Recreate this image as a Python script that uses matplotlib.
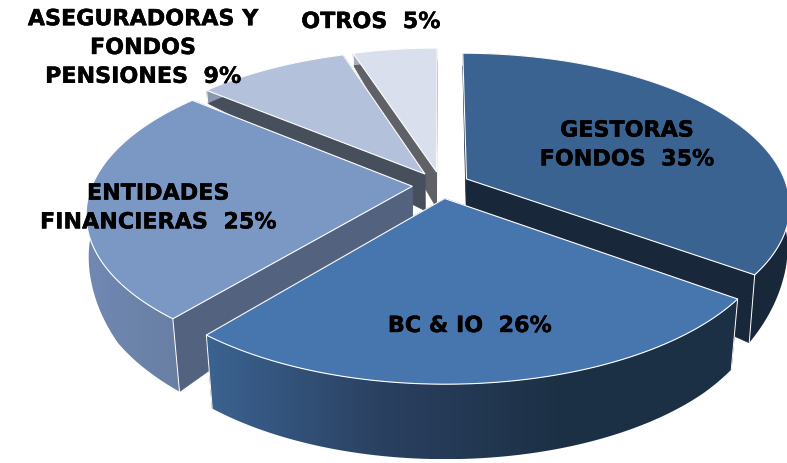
import numpy as np
import matplotlib
matplotlib.use('Agg')
import matplotlib.pyplot as plt
import matplotlib.patheffects as pe
from matplotlib.colors import LinearSegmentedColormap
from matplotlib.patches import Polygon

plt.rcParams['font.family'] = ['DejaVu Sans']

categorias = ['GESTORAS\nFONDOS  35%', 'BC & IO  26%', 'ENTIDADES\nFINANCIERAS  25%',
              'ASEGURADORAS Y\nFONDOS\nPENSIONES  9%', 'OTROS  5%']
valores = [35, 26, 25, 9, 5]

color_top = ['#3A6391', '#4776AE', '#7B98C5', '#B3C1DA', '#D9DFEC']
color_lado = ['#182739', '#1C3045', '#52627F', '#474F5C', '#5F6167']
grad_fuera = [('#182739', '#182739'), ('#3B6391', '#2A4060', '#1C3045', '#1C3045'), ('#7089B4', '#687D9F'),
              ('#8A97AE', '#8A97AE'), ('#A9AFBC', '#A9AFBC')]
pos_texto = [(627, 145), (470, 326), (158, 208), (143, 48), (371, 22)]

# geometria del pastel en perspectiva
cx, cy = 441, 185
rx, ry = 320, 149
p = 0.17
expl = 0.09


def proy(u, v):
    w = 1 - p * v
    return cx + rx * u / w, cy + ry * v / w


def abajo(x, y):
    d = np.interp(y, [53, 92, 172, 230, 275, 320, 385], [12, 13, 36, 52, 68, 73, 75])
    f = np.interp(y, [200, 320], [0.995, 0.975])
    return cx + (x - cx) * f, y + d


fig = plt.figure(figsize=(7.87, 4.63), dpi=100)
ax = fig.add_axes([0, 0, 1, 1])
ax.set_xlim(0, 787)
ax.set_ylim(463, 0)
ax.axis('off')

fracs = np.array(valores) / sum(valores) * 2 * np.pi
fin = np.cumsum(fracs)
ini = fin - fracs

orden = [4, 3, 2, 0, 1]
for z, i in enumerate(orden):
    t = np.linspace(ini[i], fin[i], 200)
    med = (ini[i] + fin[i]) / 2
    ou, ov = expl * np.sin(med), -expl * np.cos(med)
    ax_x, ax_y = proy(ou, ov)
    ex, ey = proy(ou + np.sin(t), ov - np.cos(t))

    # paredes de los dos cortes
    a1x, a1y = abajo(ax_x, ax_y)
    for k in [0, -1]:
        b1x, b1y = abajo(ex[k], ey[k])
        ax.add_patch(Polygon([(ax_x, ax_y), (ex[k], ey[k]), (b1x, b1y), (a1x, a1y)],
                             fc=color_lado[i], ec=color_lado[i], lw=0.5, zorder=z * 3 + 1))

    # pared exterior con degradado
    bx, by = abajo(ex, ey)
    cuerpo = np.vstack([np.c_[ex, ey], np.c_[bx, by][::-1]])
    cmap = LinearSegmentedColormap.from_list('g', grad_fuera[i])
    ext = [cuerpo[:, 0].min(), cuerpo[:, 0].max(), cuerpo[:, 1].max(), cuerpo[:, 1].min()]
    im = ax.imshow(np.linspace(0, 1, 256).reshape(1, -1), cmap=cmap, extent=ext, aspect='auto', zorder=z * 3 + 2)
    pol = Polygon(cuerpo, closed=True, transform=ax.transData, fc='none', ec='none')
    ax.add_patch(pol)
    im.set_clip_path(pol)
    for k in [0, -1]:
        ax.plot([ex[k], bx[k]], [ey[k], by[k]], color='white', lw=0.7, zorder=z * 3 + 2)

    # cara superior
    ax.add_patch(Polygon(np.vstack([[ax_x, ax_y], np.c_[ex, ey]]), fc=color_top[i],
                         ec='white', lw=0.8, zorder=z * 3 + 3))

ax.set_xlim(0, 787)
ax.set_ylim(463, 0)

for c, (x, y) in zip(categorias, pos_texto):
    ax.text(x, y, c, ha='center', va='center', fontsize=16, fontweight='bold', color='black',
            linespacing=1.55, zorder=50, path_effects=[pe.withStroke(linewidth=0.3, foreground='black')])

fig.savefig('out.png', dpi=100)
